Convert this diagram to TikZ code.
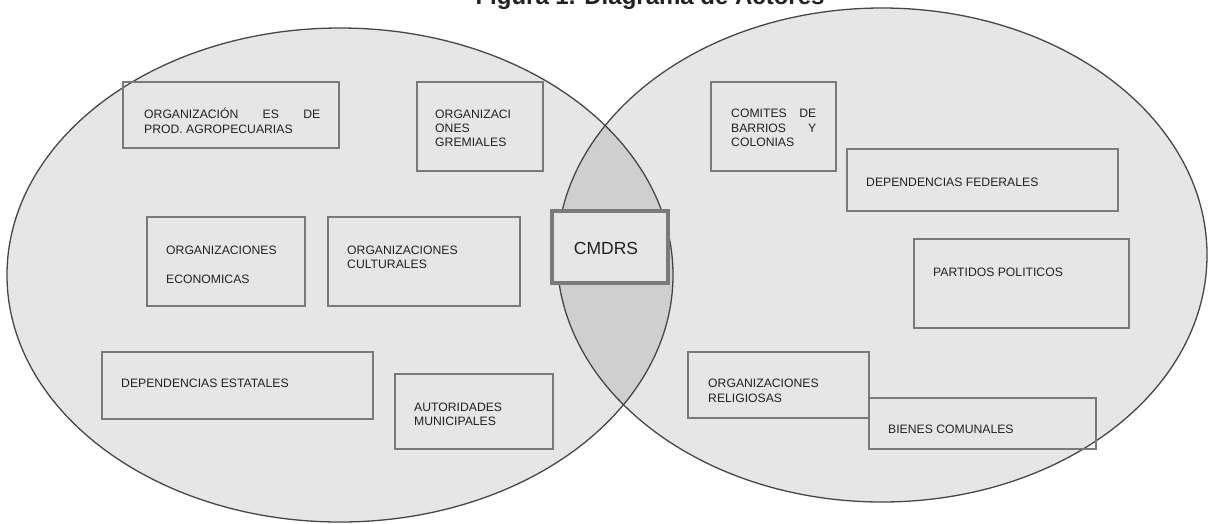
\documentclass[tikz,border=0pt]{standalone}
\usepackage{fontspec}
\setmainfont{Liberation Sans}
\definecolor{fillone}{HTML}{E6E6E6}
\definecolor{filltwo}{HTML}{CFCFCF}
\definecolor{ringline}{HTML}{474747}
\definecolor{boxline}{HTML}{7A7A7A}
\definecolor{txt}{HTML}{222222}
\newcommand\boxtext[3]{\parbox[t]{#1}{\setlength\baselineskip{#2}#3}}
\begin{document}
\begin{tikzpicture}[x=1pt,y=-1pt,
  ring/.style={draw=ringline,line width=1.3pt},
  actor/.style={draw=boxline,line width=1.5pt,rectangle,inner sep=0pt},
  lbl/.style={anchor=base west,inner sep=0pt,text=txt,font=\fontsize{12.2}{14.5}\selectfont},
  core/.style={draw=boxline,line width=4pt,rectangle,inner sep=0pt,fill=fillone}
]
\useasboundingbox (0,0) rectangle (1209,523);
\fill[white] (0,0) rectangle (1209,523);
% ellipses
\fill[fillone] (340,275) ellipse [x radius=333, y radius=247];
\fill[fillone] (882,255) ellipse [x radius=325, y radius=247];
\begin{scope}
  \clip (340,275) ellipse [x radius=333, y radius=247];
  \fill[filltwo] (882,255) ellipse [x radius=325, y radius=247];
\end{scope}
\draw[ring] (340,275) ellipse [x radius=333, y radius=247];
\draw[ring] (882,255) ellipse [x radius=325, y radius=247];
% title (partly cut off at the top, as in the reference)
\node[anchor=base,inner sep=0pt,text=txt,font=\bfseries\fontsize{24}{27}\selectfont] (title) at (650,4) {Figura 1. Diagrama de Actores};
% left set
\node[actor,minimum width=216,minimum height=66] (b1) at (231,115) {};
\node[lbl] (t1) at (144,118.5) {\boxtext{176pt}{14.5pt}{ORGANIZACIÓN\hfill ES\hfill DE\\PROD. AGROPECUARIAS}};
\node[actor,minimum width=126,minimum height=89] (b2) at (480,126.5) {};
\node[lbl] (t2) at (435,118.5) {\boxtext{100pt}{14pt}{ORGANIZACI\\ONES\\GREMIALES}};
\node[actor,minimum width=158,minimum height=89] (b3) at (226,261.5) {};
\node[lbl] (t3) at (166,254.5) {\boxtext{130pt}{29pt}{ORGANIZACIONES\\ECONOMICAS}};
\node[actor,minimum width=192,minimum height=89] (b4) at (424,261.5) {};
\node[lbl] (t4) at (347,254.5) {\boxtext{150pt}{13.5pt}{ORGANIZACIONES\\CULTURALES}};
\node[actor,minimum width=271,minimum height=67] (b5) at (237.5,385.5) {};
\node[lbl] (t5) at (121,387.5) {DEPENDENCIAS ESTATALES};
\node[actor,minimum width=158,minimum height=75] (b6) at (474,411.5) {};
\node[lbl] (t6) at (414,411.5) {\boxtext{120pt}{14pt}{AUTORIDADES\\MUNICIPALES}};
% right set
\node[actor,minimum width=125,minimum height=89] (b7) at (773.5,126.5) {};
\node[lbl] (t7) at (731,117.5) {\boxtext{85pt}{14.5pt}{COMITES\hfill DE\\BARRIOS\hfill Y\\COLONIAS}};
\node[actor,minimum width=271,minimum height=62] (b8) at (982.5,180) {};
\node[lbl] (t8) at (866,186.5) {DEPENDENCIAS FEDERALES};
\node[actor,minimum width=215,minimum height=89] (b9) at (1021.5,283.5) {};
\node[lbl] (t9) at (933,276.5) {PARTIDOS POLITICOS};
\node[actor,minimum width=181,minimum height=66] (b10) at (778.5,385) {};
\node[lbl] (t10) at (708,387.5) {\boxtext{150pt}{14.5pt}{ORGANIZACIONES\\RELIGIOSAS}};
\node[actor,minimum width=227,minimum height=51] (b11) at (982.5,423.5) {};
\node[lbl] (t11) at (888,433.5) {BIENES COMUNALES};
% centre
\node[core,minimum width=116,minimum height=72] (cmdrs) at (610,247) {};
\node[anchor=base,inner sep=0pt,text=txt,font=\fontsize{17.5}{20}\selectfont] (tc) at (606,254) {CMDRS};
\end{tikzpicture}
\end{document}
